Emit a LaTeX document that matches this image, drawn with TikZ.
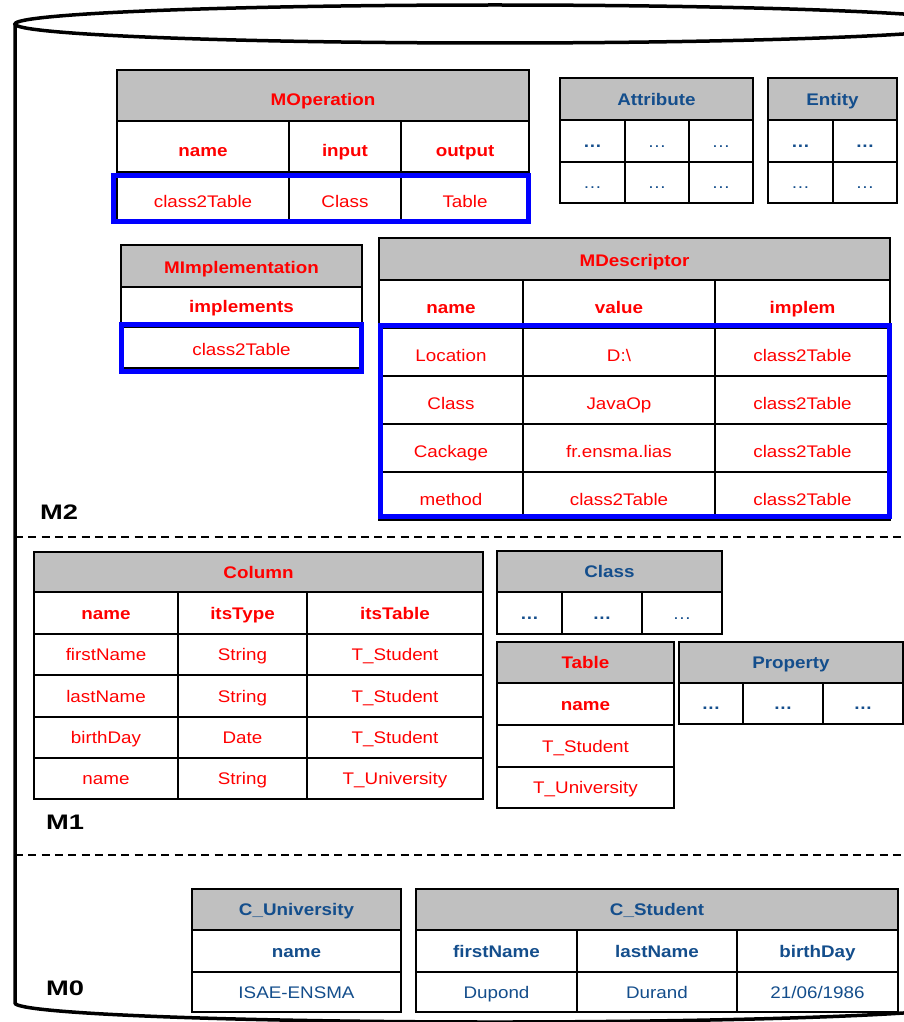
\documentclass[tikz,border=0pt]{standalone}
\usepackage{fontspec}
\setmainfont{Liberation Sans}
\newfontfamily\tabfont[FakeStretch=1.12]{Liberation Sans}
\newfontfamily\lblfont[FakeStretch=1.3]{Liberation Sans}
\definecolor{hdrgray}{RGB}{192,192,192}
\definecolor{schemared}{RGB}{255,0,0}
\definecolor{instblue}{RGB}{20,78,140}
\definecolor{selblue}{RGB}{0,0,255}
% one table cell: name, x1, y1, x2, y2, style, text
\newcommand\tcell[7]{%
  \node[cellbase,#6,minimum width={#4-#2},minimum height={#5-#3}]
    (#1) at ({(#2+#4)/2},{(#3+#5)/2}) {#7};}
\tikzset{
  cellbase/.style={draw=black,line width=2.5pt,rectangle,inner sep=0pt,
    fill=white,font=\tabfont\fontsize{16.8}{18}\selectfont,
    text height=12.5pt,text depth=0pt},
  hdr/.style={fill=hdrgray,font=\tabfont\fontsize{16.8}{18}\selectfont\bfseries},
  bold/.style={font=\tabfont\fontsize{16.8}{18}\selectfont\bfseries},
  low/.style={text height=19.5pt},
  lowhalf/.style={text height=15.5pt},
  red/.style={text=schemared},
  inst/.style={text=instblue},
  selbox/.style={draw=selblue,line width=5pt},
  levelsep/.style={line width=2.7pt,dash pattern=on 8pt off 5.3pt},
  levellabel/.style={font=\lblfont\fontsize{21}{24}\selectfont\bfseries,inner sep=0pt},
  vessel/.style={line width=3.5pt}
}
\begin{document}
\begin{tikzpicture}[x=1pt,y=-1pt]
\useasboundingbox (0,0) rectangle (904,1022);
\clip (0,0) rectangle (904,1022);
% repository cylinder
\draw[vessel] (495,24) ellipse [x radius=480pt, y radius=19pt];
\draw[vessel] (15,24) -- (15,1003)
  arc[start angle=180, end angle=360, x radius=480pt, y radius=19pt];
% level separators
\coordinate (s2l) at (15,537); \coordinate (s2r) at (904,537);
\coordinate (s1l) at (15,855); \coordinate (s1r) at (904,855);
\draw[levelsep] (s2l) -- (s2r);
\draw[levelsep] (s1l) -- (s1r);
% level labels
\node[levellabel,anchor=west] (lM2) at (40,512) {M2};
\node[levellabel,anchor=west] (lM1) at (46,822) {M1};
\node[levellabel,anchor=west] (lM0) at (46,988) {M0};

% ---------- M2 ----------
% MOperation
\tcell{mo}{117}{70}{529}{121}{hdr,red,low}{MOperation}
\tcell{mo11}{117}{121}{289}{172}{bold,red,low}{name}
\tcell{mo12}{289}{121}{401}{172}{bold,red,low}{input}
\tcell{mo13}{401}{121}{529}{172}{bold,red,low}{output}
\tcell{mo21}{117}{174}{289}{222}{red,low}{class2Table}
\tcell{mo22}{289}{174}{401}{222}{red,low}{Class}
\tcell{mo23}{401}{174}{529}{222}{red,low}{Table}
\draw[selbox] (113.5,175.5) rectangle (528.5,221.5);

% Attribute
\tcell{at}{560}{78}{753}{120}{hdr,inst}{Attribute}
\tcell{at11}{560}{120}{625}{162}{bold,inst}{\dots}
\tcell{at12}{625}{120}{689}{162}{inst}{\dots}
\tcell{at13}{689}{120}{753}{162}{inst}{\dots}
\tcell{at21}{560}{162}{625}{203}{inst}{\dots}
\tcell{at22}{625}{162}{689}{203}{inst}{\dots}
\tcell{at23}{689}{162}{753}{203}{inst}{\dots}
% Entity
\tcell{en}{768}{78}{897}{120}{hdr,inst}{Entity}
\tcell{en11}{768}{120}{833}{162}{bold,inst}{\dots}
\tcell{en12}{833}{120}{897}{162}{bold,inst}{\dots}
\tcell{en21}{768}{162}{833}{203}{inst}{\dots}
\tcell{en22}{833}{162}{897}{203}{inst}{\dots}

% MImplementation
\tcell{mi}{121}{245}{362}{287}{hdr,red,lowhalf}{MImplementation}
\tcell{mi1}{121}{287}{362}{325}{bold,red}{implements}
\tcell{mi2}{121}{327}{362}{368}{red,lowhalf}{class2Table}
\draw[selbox] (121.5,324.5) rectangle (361.5,371);

% MDescriptor
\tcell{md}{379}{238}{890}{280}{hdr,red,lowhalf}{MDescriptor}
\tcell{md01}{379}{280}{523}{328}{bold,red,low}{name}
\tcell{md02}{523}{280}{715}{328}{bold,red,low}{value}
\tcell{md03}{715}{280}{890}{328}{bold,red,low}{implem}
\tcell{md11}{379}{328}{523}{376}{red,low}{Location}
\tcell{md12}{523}{328}{715}{376}{red,low}{D:\textbackslash}
\tcell{md13}{715}{328}{890}{376}{red,low}{class2Table}
\tcell{md21}{379}{376}{523}{424}{red,low}{Class}
\tcell{md22}{523}{376}{715}{424}{red,low}{JavaOp}
\tcell{md23}{715}{376}{890}{424}{red,low}{class2Table}
\tcell{md31}{379}{424}{523}{472}{red,low}{Cackage}
\tcell{md32}{523}{424}{715}{472}{red,low}{fr.ensma.lias}
\tcell{md33}{715}{424}{890}{472}{red,low}{class2Table}
\tcell{md41}{379}{472}{523}{520}{red,low}{method}
\tcell{md42}{523}{472}{715}{520}{red,low}{class2Table}
\tcell{md43}{715}{472}{890}{520}{red,low}{class2Table}
\draw[selbox] (380,325.5) rectangle (889,516.5);

% ---------- M1 ----------
% Column
\tcell{co}{34}{552}{483}{592}{hdr,red}{Column}
\tcell{co01}{34}{592}{178}{634}{bold,red}{name}
\tcell{co02}{178}{592}{307}{634}{bold,red}{itsType}
\tcell{co03}{307}{592}{483}{634}{bold,red}{itsTable}
\tcell{co11}{34}{634}{178}{675}{red}{firstName}
\tcell{co12}{178}{634}{307}{675}{red}{String}
\tcell{co13}{307}{634}{483}{675}{red}{T\_Student}
\tcell{co21}{34}{675}{178}{717}{red}{lastName}
\tcell{co22}{178}{675}{307}{717}{red}{String}
\tcell{co23}{307}{675}{483}{717}{red}{T\_Student}
\tcell{co31}{34}{717}{178}{758}{red}{birthDay}
\tcell{co32}{178}{717}{307}{758}{red}{Date}
\tcell{co33}{307}{717}{483}{758}{red}{T\_Student}
\tcell{co41}{34}{758}{178}{799}{red}{name}
\tcell{co42}{178}{758}{307}{799}{red}{String}
\tcell{co43}{307}{758}{483}{799}{red}{T\_University}

% Class
\tcell{cl}{497}{551}{722}{592}{hdr,inst}{Class}
\tcell{cl1}{497}{592}{562}{634}{bold,inst}{\dots}
\tcell{cl2}{562}{592}{642}{634}{bold,inst}{\dots}
\tcell{cl3}{642}{592}{722}{634}{inst}{\dots}
% Table
\tcell{tb}{497}{642}{674}{683}{hdr,red}{Table}
\tcell{tb0}{497}{683}{674}{725}{bold,red}{name}
\tcell{tb1}{497}{725}{674}{767}{red}{T\_Student}
\tcell{tb2}{497}{767}{674}{808}{red}{T\_University}
% Property
\tcell{pr}{679}{642}{903}{683}{hdr,inst}{Property}
\tcell{pr1}{679}{683}{743}{724}{bold,inst}{\dots}
\tcell{pr2}{743}{683}{823}{724}{bold,inst}{\dots}
\tcell{pr3}{823}{683}{903}{724}{bold,inst}{\dots}

% ---------- M0 ----------
% C_University
\tcell{cu}{192}{889}{401}{930}{hdr,inst}{C\_University}
\tcell{cu0}{192}{930}{401}{972}{bold,inst}{name}
\tcell{cu1}{192}{972}{401}{1012}{inst}{ISAE-ENSMA}
% C_Student
\tcell{cs}{416}{889}{898}{930}{hdr,inst}{C\_Student}
\tcell{cs01}{416}{930}{577}{972}{bold,inst}{firstName}
\tcell{cs02}{577}{930}{737}{972}{bold,inst}{lastName}
\tcell{cs03}{737}{930}{898}{972}{bold,inst}{birthDay}
\tcell{cs11}{416}{972}{577}{1012}{inst}{Dupond}
\tcell{cs12}{577}{972}{737}{1012}{inst}{Durand}
\tcell{cs13}{737}{972}{898}{1012}{inst}{21/06/1986}
\end{tikzpicture}
\end{document}
